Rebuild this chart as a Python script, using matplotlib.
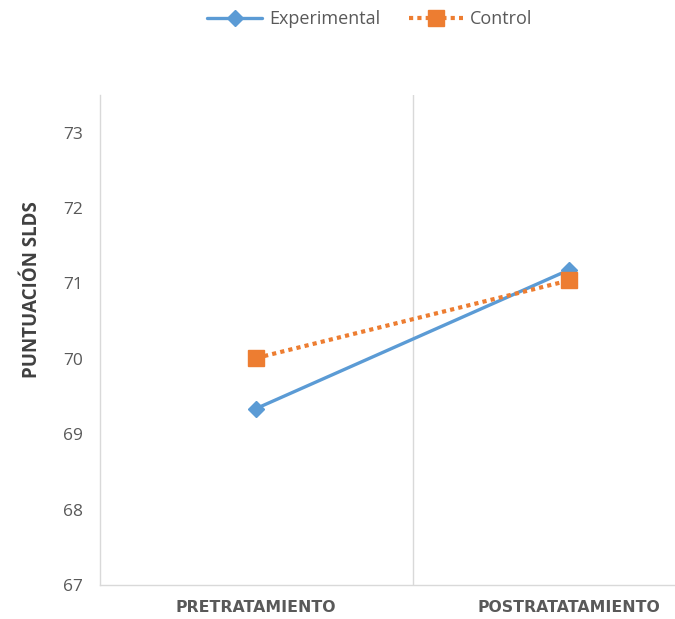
import matplotlib
matplotlib.use("Agg")
import matplotlib.pyplot as plt

categories = ["PRETRATAMIENTO", "POSTRATATAMIENTO"]
experimental = [69.34, 71.18]
control = [70.01, 71.04]
yticks = [67, 68, 69, 70, 71, 72, 73]

plt.rcParams['font.family'] = ['Open Sans', 'DejaVu Sans']

fig = plt.figure(figsize=(6.75, 6.19), dpi=100)
W, H = 675, 619
left, right, top, bottom = 99.5, 675, 95, 585
ax = fig.add_axes([left / W, 1 - bottom / H, (right - left) / W, (bottom - top) / H])

x = list(range(len(categories)))
ax.plot(x, experimental, color='#5b9bd5', lw=2.4, marker='D', ms=8,
        label='Experimental', solid_capstyle='round', zorder=3)
ax.plot(x, control, color='#ed7d31', lw=3, ls=(0, (1, 1)), marker='s', ms=11,
        label='Control', zorder=4)

ax.set_xlim(-0.5, -0.5 + (right - left) / 313)
ax.set_ylim(67, 73.5)
ax.set_yticks(yticks)
ax.set_yticklabels([str(v) for v in yticks], color='#595959', fontsize=12.5)
ax.set_xticks(x)
ax.set_xticklabels(categories, color='#595959', fontsize=11.3, fontweight='bold',
                   family='DejaVu Sans')
ax.tick_params(axis='both', length=0)
ax.tick_params(axis='y', pad=12)
ax.tick_params(axis='x', pad=11)

ax.axvline(0.5, color='#d9d9d9', lw=1, zorder=1)
for s in ['top', 'right']:
    ax.spines[s].set_visible(False)
for s in ['left', 'bottom']:
    ax.spines[s].set_color('#d9d9d9')
    ax.spines[s].set_linewidth(1)

ax.set_ylabel('PUNTUACIÓN SLDS', color='#404040', fontsize=13.5, fontweight='bold', labelpad=12)
ax.yaxis.set_label_coords(-0.1, (bottom - 290) / (bottom - top))

fig.legend(loc='upper center', bbox_to_anchor=(370 / W, 1.01), ncol=2, frameon=False,
           fontsize=13, labelcolor='#595959', handlelength=3.0, columnspacing=1.6,
           handletextpad=0.4)

fig.savefig('out.png', dpi=100)
